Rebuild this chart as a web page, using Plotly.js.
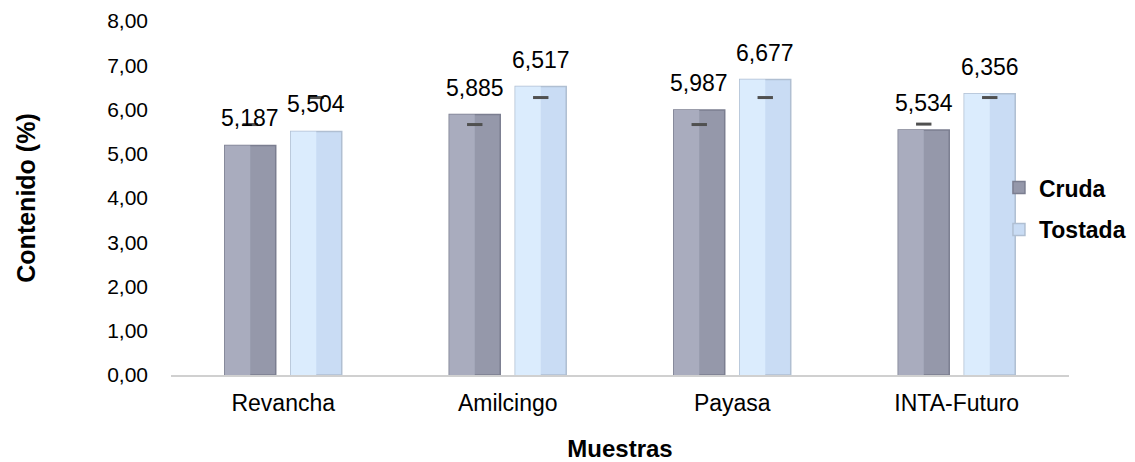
<!DOCTYPE html>
<html>
<head>
<meta charset="utf-8">
<script src="https://cdn.plot.ly/plotly-3.0.1.min.js"></script>
<style>html,body{margin:0;padding:0;background:#fff;}</style>
</head>
<body>
<div id="chart" style="width:1135px;height:462px;"></div>
<script>
var categories = ["Revancha", "Amilcingo", "Payasa", "INTA-Futuro"];
var cruda = [5.187, 5.885, 5.987, 5.534];
var tostada = [5.504, 6.517, 6.677, 6.356];
var crudaMarca = [5.66, 5.66, 5.66, 5.67];
var tostadaMarca = [6.27, 6.27, 6.27, 6.27];
var yTicks = [0, 1, 2, 3, 4, 5, 6, 7, 8];

var idx = categories.map(function (c, i) { return i; });
var off = 0.147;       // half distance between bar centres (category units)
var w = 0.227;         // bar width (category units)

function fmt(v) { return v.toFixed(3).replace('.', ','); }

var font = "Liberation Sans, Arial, sans-serif";

var traces = [
  {
    type: 'bar', name: 'Cruda', x: idx, y: cruda, width: w, offset: -off - w / 2,
    marker: { color: '#9598aa', line: { color: '#7b7e90', width: 1.5 } },
    legendgroup: 'a', hoverinfo: 'y'
  },
  {
    type: 'bar', name: 'Cruda', x: idx, y: cruda, width: w / 2, offset: -off - w / 2,
    marker: { color: '#a9acbe', line: { width: 0 } }, showlegend: false,
    legendgroup: 'a', hoverinfo: 'skip'
  },
  {
    type: 'bar', name: 'Tostada', x: idx, y: tostada, width: w, offset: off - w / 2,
    marker: { color: '#c9dcf4', line: { color: '#b0bfd2', width: 1.5 } },
    legendgroup: 'b', hoverinfo: 'y'
  },
  {
    type: 'bar', name: 'Tostada', x: idx, y: tostada, width: w / 2, offset: off - w / 2,
    marker: { color: '#dbecfd', line: { width: 0 } }, showlegend: false,
    legendgroup: 'b', hoverinfo: 'skip'
  },
  {
    type: 'scatter', mode: 'markers', showlegend: false,
    x: idx.map(function (i) { return i - off; }), y: crudaMarca,
    marker: { symbol: 'line-ew', size: 11, line: { color: '#505050', width: 3 } }
  },
  {
    type: 'scatter', mode: 'markers', showlegend: false,
    x: idx.map(function (i) { return i + off; }), y: tostadaMarca,
    marker: { symbol: 'line-ew', size: 11, line: { color: '#505050', width: 3 } }
  }
];

var annotations = [];
[cruda, tostada].forEach(function (series, s) {
  series.forEach(function (v, i) {
    annotations.push({
      x: i + (s === 0 ? -off : off), y: v, xref: 'x', yref: 'y',
      text: fmt(v), showarrow: false, yanchor: 'bottom', yshift: 12,
      font: { family: font, size: 23, color: '#000' }
    });
  });
});

var layout = {
  width: 1135, height: 462,
  margin: { l: 171, r: 66, t: 21, b: 87, pad: 0, autoexpand: false },
  paper_bgcolor: '#fff', plot_bgcolor: '#fff',
  separators: ',.',
  barmode: 'overlay',
  font: { family: font, size: 21, color: '#000' },
  xaxis: {
    range: [-0.5, 3.5], tickvals: idx, ticktext: categories, automargin: false,
    showgrid: false, zeroline: false, showline: true, linecolor: '#d0d0d0', linewidth: 1.5,
    ticks: '', tickfont: { family: font, size: 23, color: '#000' },
    ticklabelstandoff: 7,
    title: { text: '<b>Muestras</b>', font: { family: font, size: 24, color: '#000' }, standoff: 30 }
  },
  yaxis: {
    range: [0, 8], tickvals: yTicks, tickformat: '.2f', automargin: false,
    showgrid: false, zeroline: false, showline: false, ticks: '',
    tickfont: { family: font, size: 21, color: '#000' },
    ticklabelstandoff: 22,
    title: { text: '<b>Contenido (%)</b>', font: { family: font, size: 25, color: '#000' }, standoff: 64 }
  },
  legend: {
    x: 0.922, y: 0.59, xanchor: 'left', yanchor: 'top',
    bgcolor: 'rgba(0,0,0,0)', traceorder: 'grouped', tracegroupgap: 9,
    font: { family: font, size: 23, color: '#000', weight: 'bold' },
    itemwidth: 30
  },
  annotations: annotations,
  showlegend: true
};

Plotly.newPlot('chart', traces, layout, { displayModeBar: false, staticPlot: true });
</script>
</body>
</html>
